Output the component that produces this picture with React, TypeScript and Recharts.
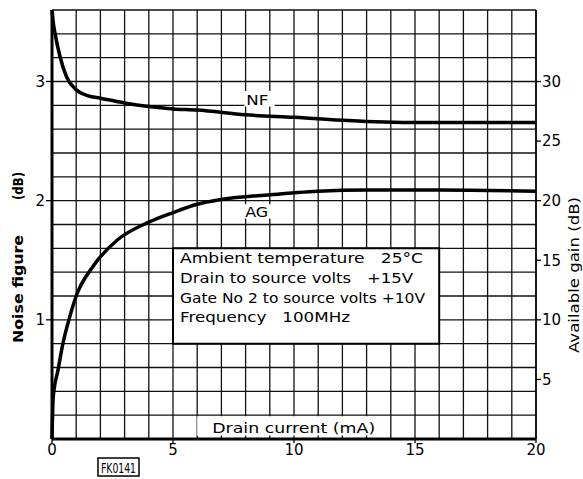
import {
  LineChart,
  Line,
  XAxis,
  YAxis,
  CartesianGrid,
  ReferenceArea,
} from "recharts";

// drain current (mA) -> noise figure (dB)
const nfCurrent = [0, 0.05, 0.12, 0.33, 0.6, 1, 1.5, 2, 3, 4, 5, 6, 8, 10, 13, 16, 20];
const nfValues = [3.6, 3.5, 3.41, 3.21, 3.04, 2.93, 2.88, 2.86, 2.82, 2.79, 2.77, 2.76, 2.72, 2.7, 2.665, 2.655, 2.655];

// drain current (mA) -> available gain (dB)
const agCurrent = [0, 0.05, 0.25, 0.45, 0.74, 1, 1.7, 2.7, 4, 5, 6, 7, 9, 11, 13, 16, 20];
const agValues = [0, 3.5, 5.8, 8, 10.3, 12, 14.5, 16.7, 18.2, 19, 19.7, 20.1, 20.5, 20.8, 20.9, 20.9, 20.8];

const xTicks = [0, 5, 10, 15, 20];
const leftTicks = [1, 2, 3];
const rightTicks = [5, 10, 15, 20, 25, 30];

const conditions = [
  "Ambient temperature\u00a0\u00a0 25°C",
  "Drain to source volts\u00a0\u00a0 +15V",
  "Gate No 2 to source volts +10V",
  "Frequency\u00a0\u00a0 100MHz",
];
const conditionWidths = [243, 233, 245, 170];

const nfData = nfCurrent.map((x, i) => ({ x, nf: nfValues[i] }));
const agData = agCurrent.map((x, i) => ({ x, ag: agValues[i] }));

const gridX = Array.from({ length: 21 }, (_, i) => i);
const gridY = Array.from({ length: 19 }, (_, i) => Math.round(i * 2) / 10);

const FONT = "'DejaVu Sans', sans-serif";

function ConditionsLabel(props: any) {
  const { x, y } = props.viewBox;
  return (
    <g fontFamily={FONT} fontSize={14} fill="#000">
      {conditions.map((t, i) => (
        <text
          key={t}
          x={x + 7}
          y={y + 15 + i * 19.7}
          textLength={conditionWidths[i]}
          lengthAdjust="spacingAndGlyphs"
        >
          {t}
        </text>
      ))}
    </g>
  );
}

function TextLabel(text: string, width: number, dx: number = 2) {
  return (props: any) => {
    const { x, y, height } = props.viewBox;
    return (
      <text
        x={x + dx}
        y={y + height - 2}
        fontFamily={FONT}
        fontSize={14}
        fill="#000"
        textLength={width}
        lengthAdjust="spacingAndGlyphs"
      >
        {text}
      </text>
    );
  };
}

function LeftTitle() {
  return (
    <g fontFamily={FONT} fontSize={14} fontWeight={600} fill="#000">
      <text transform="translate(23,343) rotate(-90)" textLength={108} lengthAdjust="spacingAndGlyphs">
        Noise figure
      </text>
      <text transform="translate(23,200) rotate(-90)" textLength={28} lengthAdjust="spacingAndGlyphs">
        (dB)
      </text>
    </g>
  );
}

function RightTitle() {
  return (
    <text
      transform="translate(579,353) rotate(-90)"
      fontFamily={FONT}
      fontSize={14}
      fill="#000"
      textLength={156}
      lengthAdjust="spacingAndGlyphs"
    >
      Available gain (dB)
    </text>
  );
}

function FkLabel() {
  return (
    <g>
      <rect x={98} y={458} width={41} height={18} fill="#fff" stroke="#000" strokeWidth={1.5} />
      <text x={101} y={473} fontFamily={FONT} fontSize={14} fill="#000" textLength={35} lengthAdjust="spacingAndGlyphs">
        FK0141
      </text>
    </g>
  );
}

export default function App() {
  return (
    <div style={{ position: "absolute", left: 0, top: 0, background: "#fff" }}>
      <LineChart width={583} height={479} margin={{ top: 10, right: 0, bottom: 0, left: 0 }}>
        <CartesianGrid
          xAxisId="x"
          yAxisId="left"
          verticalValues={gridX}
          horizontalValues={gridY}
          stroke="#111"
          strokeWidth={1.3}
        />
        <XAxis
          xAxisId="x"
          dataKey="x"
          type="number"
          domain={[0, 20]}
          ticks={xTicks}
          height={40}
          allowDuplicatedCategory={false}
          tick={{ fill: "#000", fontSize: 15, fontFamily: FONT }}
          tickSize={4}
          tickMargin={1}
          axisLine={{ stroke: "#000", strokeWidth: 3 }}
          tickLine={{ stroke: "#000", strokeWidth: 1.3 }}
          label={<FkLabel />}
        />
        <YAxis
          yAxisId="left"
          orientation="left"
          type="number"
          domain={[0, 3.6]}
          ticks={leftTicks}
          width={52}
          tick={{ fill: "#000", fontSize: 15, fontFamily: FONT }}
          tickSize={6}
          tickMargin={1}
          axisLine={{ stroke: "#000", strokeWidth: 3 }}
          tickLine={{ stroke: "#000", strokeWidth: 1.3 }}
          label={<LeftTitle />}
        />
        <YAxis
          yAxisId="right"
          orientation="right"
          type="number"
          domain={[0, 36]}
          ticks={rightTicks}
          width={47}
          tick={{ fill: "#000", fontSize: 15, fontFamily: FONT }}
          tickSize={5}
          tickMargin={1}
          axisLine={{ stroke: "#000", strokeWidth: 1.5 }}
          tickLine={{ stroke: "#000", strokeWidth: 1.3 }}
          label={<RightTitle />}
        />
        <ReferenceArea
          xAxisId="x"
          yAxisId="left"
          x1={5}
          x2={16}
          y1={0.8}
          y2={1.6}
          fill="#fff"
          fillOpacity={1}
          stroke="#000"
          strokeWidth={2}
          ifOverflow="visible"
          label={<ConditionsLabel />}
        />
        <ReferenceArea
          xAxisId="x"
          yAxisId="left"
          x1={6}
          x2={13.45}
          y1={0.03}
          y2={0.19}
          fill="#fff"
          fillOpacity={1}
          stroke="none"
          label={TextLabel("Drain current (mA)", 163, 15)}
        />
        <ReferenceArea
          xAxisId="x"
          yAxisId="left"
          x1={7.95}
          x2={9.2}
          y1={2.79}
          y2={2.92}
          fill="#fff"
          fillOpacity={1}
          stroke="none"
          label={TextLabel("NF", 22)}
        />
        <ReferenceArea
          xAxisId="x"
          yAxisId="left"
          x1={7.9}
          x2={9.1}
          y1={1.85}
          y2={1.97}
          fill="#fff"
          fillOpacity={1}
          stroke="none"
          label={TextLabel("AG", 23)}
        />
        <Line
          xAxisId="x"
          yAxisId="left"
          data={nfData}
          dataKey="nf"
          type="monotone"
          stroke="#000"
          strokeWidth={3.5}
          dot={false}
          isAnimationActive={false}
        />
        <Line
          xAxisId="x"
          yAxisId="right"
          data={agData}
          dataKey="ag"
          type="monotone"
          stroke="#000"
          strokeWidth={3.5}
          dot={false}
          isAnimationActive={false}
        />
      </LineChart>
    </div>
  );
}
